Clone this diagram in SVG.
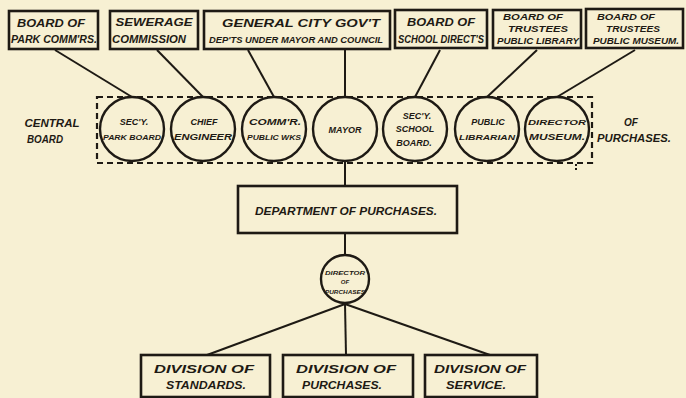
<svg xmlns="http://www.w3.org/2000/svg" width="686" height="398" viewBox="0 0 686 398">
<style>
.bg{fill:#f7f0d3}
.box{fill:none;stroke:#1e1a14;stroke-width:2.6}
.circ{fill:none;stroke:#1e1a14;stroke-width:2.4}
.ln{stroke:#1e1a14;stroke-width:2;fill:none}
.dash{fill:none;stroke:#1e1a14;stroke-width:2.2;stroke-dasharray:6 4}
text{font-family:"Liberation Sans",Arial,sans-serif;font-weight:bold;font-style:italic;fill:#1e1a14;text-anchor:middle}
.t11{font-size:11px}
.t10{font-size:10px}
.t9{font-size:9px}
.t8{font-size:8px}
.t6{font-size:6px}
</style>
<rect class="bg" x="0" y="0" width="686" height="398"/>
<g id="connectors">
<line class="ln" x1="55" y1="50" x2="132" y2="97"/>
<line class="ln" x1="157" y1="50" x2="203" y2="97"/>
<line class="ln" x1="248" y1="50" x2="274" y2="97"/>
<line class="ln" x1="345" y1="50" x2="345" y2="97"/>
<line class="ln" x1="440" y1="50" x2="415" y2="97"/>
<line class="ln" x1="537" y1="50" x2="487" y2="97"/>
<line class="ln" x1="635" y1="50" x2="557" y2="97"/>
<line class="ln" x1="345" y1="160" x2="345" y2="186"/>
<line class="ln" x1="345" y1="233" x2="345" y2="255"/>
<line class="ln" x1="345" y1="304" x2="207" y2="355"/>
<line class="ln" x1="345" y1="304" x2="346" y2="355"/>
<line class="ln" x1="345" y1="304" x2="490" y2="355"/>
</g>
<g id="central-board">
<rect class="dash" x="97" y="97" width="495" height="66"/>
<line class="ln" x1="576" y1="164" x2="576" y2="170" stroke-dasharray="2 2"/>
<text class="t10" x="52" y="127" textLength="55" lengthAdjust="spacingAndGlyphs">CENTRAL</text>
<text class="t10" x="45" y="143" textLength="36" lengthAdjust="spacingAndGlyphs">BOARD</text>
<text class="t10" x="631" y="126">OF</text>
<text class="t10" x="634" y="142" textLength="74" lengthAdjust="spacingAndGlyphs">PURCHASES.</text>
</g>
<g id="box-park">
<rect class="box" x="9" y="11" width="89" height="38"/>
<text class="t11" x="51" y="27" textLength="68" lengthAdjust="spacingAndGlyphs">BOARD OF</text>
<text class="t11" x="54" y="43" textLength="86" lengthAdjust="spacingAndGlyphs">PARK COMM'RS.</text>
</g>
<g id="box-sewerage">
<rect class="box" x="110" y="11" width="88" height="38"/>
<text class="t11" x="154" y="26" textLength="77" lengthAdjust="spacingAndGlyphs">SEWERAGE</text>
<text class="t11" x="149" y="43" textLength="74" lengthAdjust="spacingAndGlyphs">COMMISSION</text>
</g>
<g id="box-general">
<rect class="box" x="204" y="11" width="186" height="38"/>
<text class="t11" x="301" y="27" textLength="158" lengthAdjust="spacingAndGlyphs">GENERAL CITY GOV'T</text>
<text class="t9" x="296" y="43" textLength="174" lengthAdjust="spacingAndGlyphs">DEP'TS UNDER MAYOR AND COUNCIL</text>
</g>
<g id="box-school">
<rect class="box" x="395" y="10" width="92" height="38"/>
<text class="t11" x="441" y="26" textLength="68" lengthAdjust="spacingAndGlyphs">BOARD OF</text>
<text class="t10" x="441" y="43" textLength="86" lengthAdjust="spacingAndGlyphs">SCHOOL DIRECT'S</text>
</g>
<g id="box-library">
<rect class="box" x="493" y="10" width="88" height="38"/>
<text class="t9" x="533" y="20" textLength="60" lengthAdjust="spacingAndGlyphs">BOARD OF</text>
<text class="t9" x="538" y="32" textLength="60" lengthAdjust="spacingAndGlyphs">TRUSTEES</text>
<text class="t9" x="538" y="44" textLength="82" lengthAdjust="spacingAndGlyphs">PUBLIC LIBRARY</text>
</g>
<g id="box-museum">
<rect class="box" x="586" y="9" width="97" height="39"/>
<text class="t9" x="626" y="20" textLength="58" lengthAdjust="spacingAndGlyphs">BOARD OF</text>
<text class="t9" x="633" y="32" textLength="54" lengthAdjust="spacingAndGlyphs">TRUSTEES</text>
<text class="t9" x="636" y="44" textLength="86" lengthAdjust="spacingAndGlyphs">PUBLIC MUSEUM.</text>
</g>
<g id="c-park">
<circle class="circ" cx="132" cy="129" r="32"/>
<text class="t9" x="134" y="125">SEC'Y.</text>
<text class="t8" x="132" y="140" textLength="58" lengthAdjust="spacingAndGlyphs">PARK BOARD</text>
</g>
<g id="c-engineer">
<circle class="circ" cx="203" cy="129" r="32"/>
<text class="t9" x="204" y="125">CHIEF</text>
<text class="t9" x="203" y="140" textLength="58" lengthAdjust="spacingAndGlyphs">ENGINEER</text>
</g>
<g id="c-works">
<circle class="circ" cx="274" cy="129" r="32"/>
<text class="t9" x="275" y="125" textLength="52" lengthAdjust="spacingAndGlyphs">COMM'R.</text>
<text class="t8" x="274" y="140" textLength="54" lengthAdjust="spacingAndGlyphs">PUBLIC WKS</text>
</g>
<g id="c-mayor">
<circle class="circ" cx="345" cy="129" r="32"/>
<text class="t9" x="345" y="133">MAYOR</text>
</g>
<g id="c-school">
<circle class="circ" cx="415" cy="129" r="32"/>
<text class="t9" x="417" y="119">SEC'Y.</text>
<text class="t9" x="415" y="132">SCHOOL</text>
<text class="t9" x="414" y="146">BOARD.</text>
</g>
<g id="c-librarian">
<circle class="circ" cx="487" cy="129" r="32"/>
<text class="t9" x="488" y="125">PUBLIC</text>
<text class="t8" x="487" y="140" textLength="56" lengthAdjust="spacingAndGlyphs">LIBRARIAN</text>
</g>
<g id="c-museum">
<circle class="circ" cx="557" cy="129" r="32"/>
<text class="t8" x="557" y="125" textLength="58" lengthAdjust="spacingAndGlyphs">DIRECTOR</text>
<text class="t9" x="557" y="140" textLength="56" lengthAdjust="spacingAndGlyphs">MUSEUM.</text>
</g>
<g id="dept">
<rect class="box" x="238" y="186" width="219" height="47"/>
<text class="t11" x="346" y="215" textLength="182" lengthAdjust="spacingAndGlyphs">DEPARTMENT OF PURCHASES.</text>
</g>
<g id="c-director">
<circle class="circ" cx="345" cy="279" r="24"/>
<text class="t6" x="345" y="275" textLength="40" lengthAdjust="spacingAndGlyphs">DIRECTOR</text>
<text class="t6" x="345" y="284">OF</text>
<text class="t6" x="345" y="294" textLength="40" lengthAdjust="spacingAndGlyphs">PURCHASES</text>
</g>
<g id="div-standards">
<rect class="box" x="141" y="355" width="129" height="42"/>
<text class="t11" x="204" y="373" textLength="100" lengthAdjust="spacingAndGlyphs">DIVISION OF</text>
<text class="t11" x="206" y="389" textLength="80" lengthAdjust="spacingAndGlyphs">STANDARDS.</text>
</g>
<g id="div-purchases">
<rect class="box" x="283" y="355" width="130" height="42"/>
<text class="t11" x="346" y="373" textLength="100" lengthAdjust="spacingAndGlyphs">DIVISION OF</text>
<text class="t11" x="342" y="389" textLength="80" lengthAdjust="spacingAndGlyphs">PURCHASES.</text>
</g>
<g id="div-service">
<rect class="box" x="425" y="355" width="112" height="42"/>
<text class="t11" x="480" y="373" textLength="92" lengthAdjust="spacingAndGlyphs">DIVISION OF</text>
<text class="t11" x="476" y="389" textLength="60" lengthAdjust="spacingAndGlyphs">SERVICE.</text>
</g>
</svg>
